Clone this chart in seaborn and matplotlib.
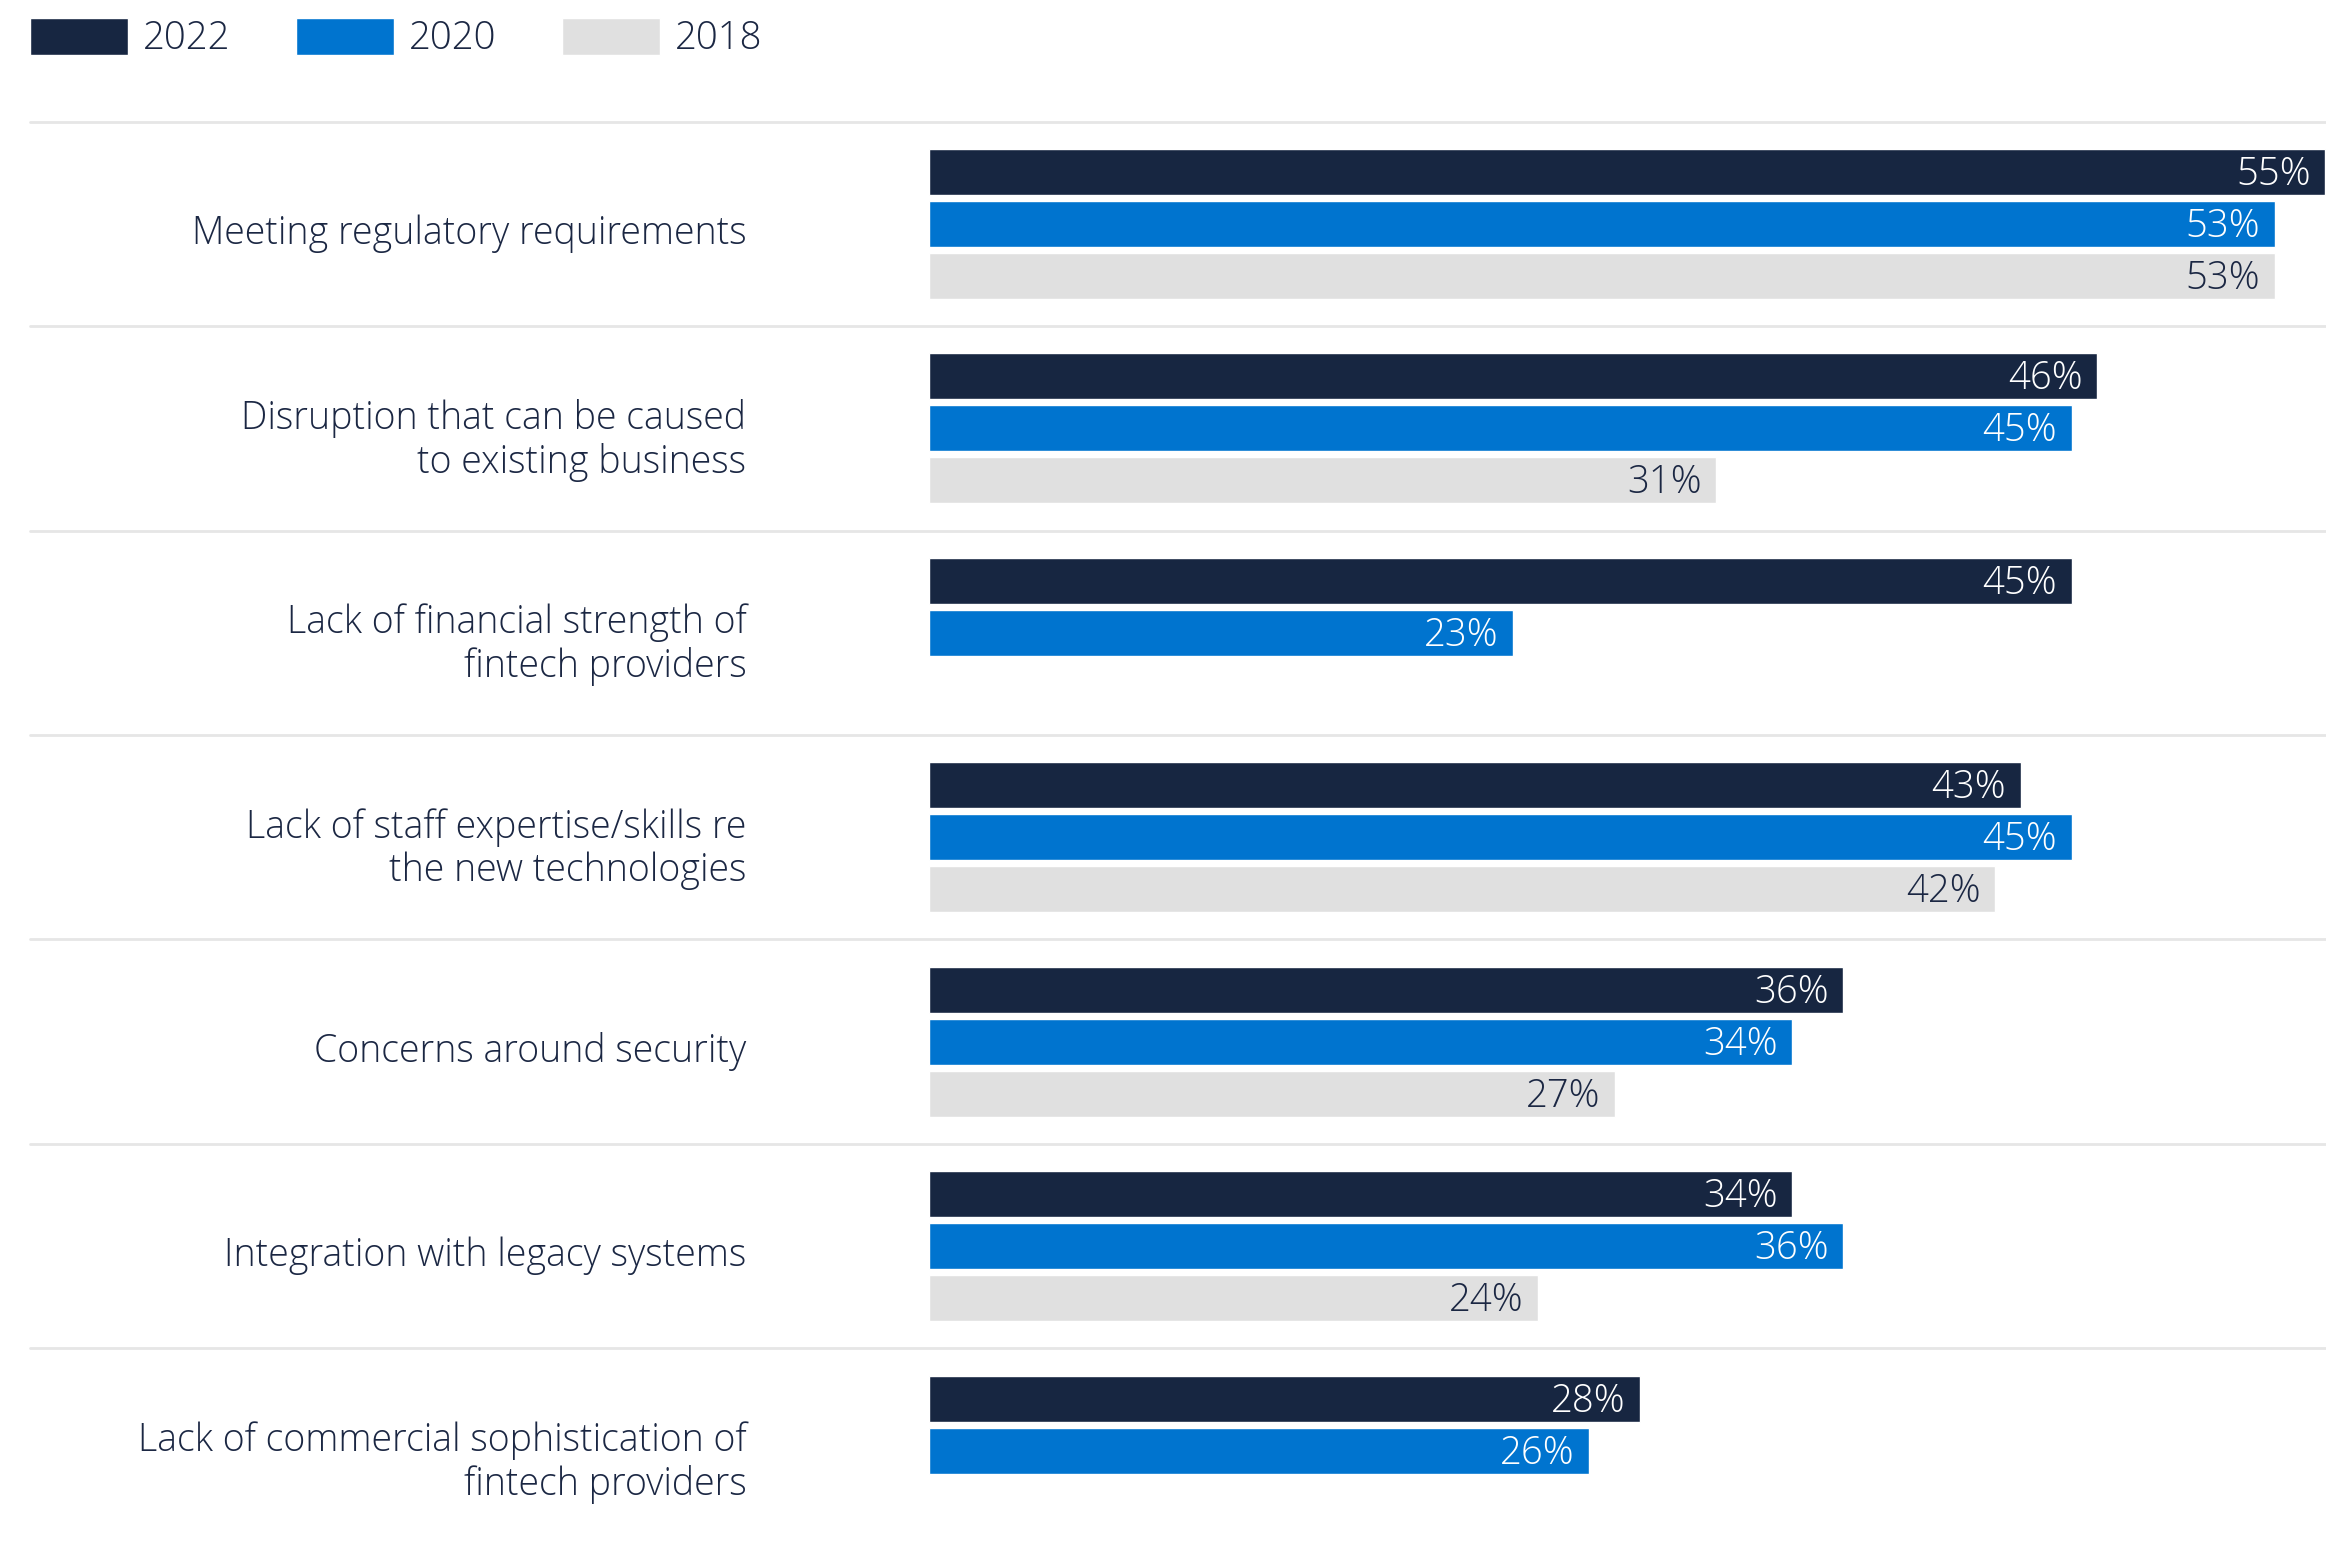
import numpy as np
import pandas as pd
import matplotlib
matplotlib.use("Agg")
import matplotlib.pyplot as plt
import matplotlib.transforms as mtransforms
import seaborn as sns

categories = [
    "Meeting regulatory requirements",
    "Disruption that can be caused\nto existing business",
    "Lack of financial strength of\nfintech providers",
    "Lack of staff expertise/skills re\nthe new technologies",
    "Concerns around security",
    "Integration with legacy systems",
    "Lack of commercial sophistication of\nfintech providers",
]
years = ["2022", "2020", "2018"]
values_2022 = [55, 46, 45, 43, 36, 34, 28]
values_2020 = [53, 45, 23, 45, 34, 36, 26]
values_2018 = [53, 31, np.nan, 42, 27, 24, np.nan]

colors = {"2022": "#172641", "2020": "#0074CF", "2018": "#E0E0E0"}
label_colors = {"2022": "white", "2020": "white", "2018": "#1b2743"}
text_color = "#1b2743"

rows = []
for yr, vals in zip(years, [values_2022, values_2020, values_2018]):
    for c, v in zip(categories, vals):
        rows.append({"category": c, "year": yr, "value": v})
df = pd.DataFrame(rows)

sns.set_style("white")
plt.rcParams["font.family"] = ["Open Sans", "DejaVu Sans"]

W, H = 2326, 1541
fig = plt.figure(figsize=(W / 100, H / 100), dpi=100)
ax_left = 929 / W
ax_bottom_px = 1552.9
ax = fig.add_axes([ax_left, 1 - ax_bottom_px / H, 1 - ax_left, (ax_bottom_px - 121.6) / H])

sns.barplot(data=df, y="category", x="value", hue="year", hue_order=years,
            order=categories, palette=colors, orient="h", width=0.762, gap=0.115,
            saturation=1, ax=ax, legend=True, errorbar=None)

ax.set_xlim(0, 55.02)
ax.set_ylim(6.5, -0.5)
ax.set_xlabel("")
ax.set_ylabel("")
ax.set_xticks([])
for s in ax.spines.values():
    s.set_visible(False)

ax.tick_params(axis="y", length=0, pad=131.5, labelsize=27, labelcolor=text_color)
shift = mtransforms.ScaledTranslation(0, -5 / 100, fig.dpi_scale_trans)
for t in ax.get_yticklabels():
    t.set_fontweight("light")
    t.set_linespacing(1.17)
    t.set_transform(t.get_transform() + shift)

# separators
xmin = (30 - 929) / (W - 929)
for i in range(7):
    ax.axhline(i - 0.5, xmin=xmin, xmax=1, color="#E6E6E6", lw=2, clip_on=False, zorder=0)

# value labels
for cont, yr in zip(ax.containers, years):
    for patch in cont.patches:
        w = patch.get_width()
        if not np.isfinite(w) or w <= 0:
            continue
        yc = patch.get_y() + patch.get_height() / 2
        ax.annotate(f"{w:.0f}%", xy=(w, yc), xytext=(-10.5, -2), textcoords="offset points",
                    ha="right", va="center", fontsize=27.5, fontweight="light",
                    color=label_colors[yr])

# legend
handles, labels = ax.get_legend_handles_labels()
ax.legend_.remove()
leg = fig.legend(handles, labels, loc="upper left", bbox_to_anchor=(30 / W, 1 - 18 / H),
                 ncol=3, frameon=False, fontsize=27.5, handlelength=2.57, handleheight=1.1,
                 handletextpad=0.38, columnspacing=1.72, borderaxespad=0, borderpad=0)
for t in leg.get_texts():
    t.set_color(text_color)
    t.set_fontweight("light")

fig.savefig("out.png", dpi=100)
